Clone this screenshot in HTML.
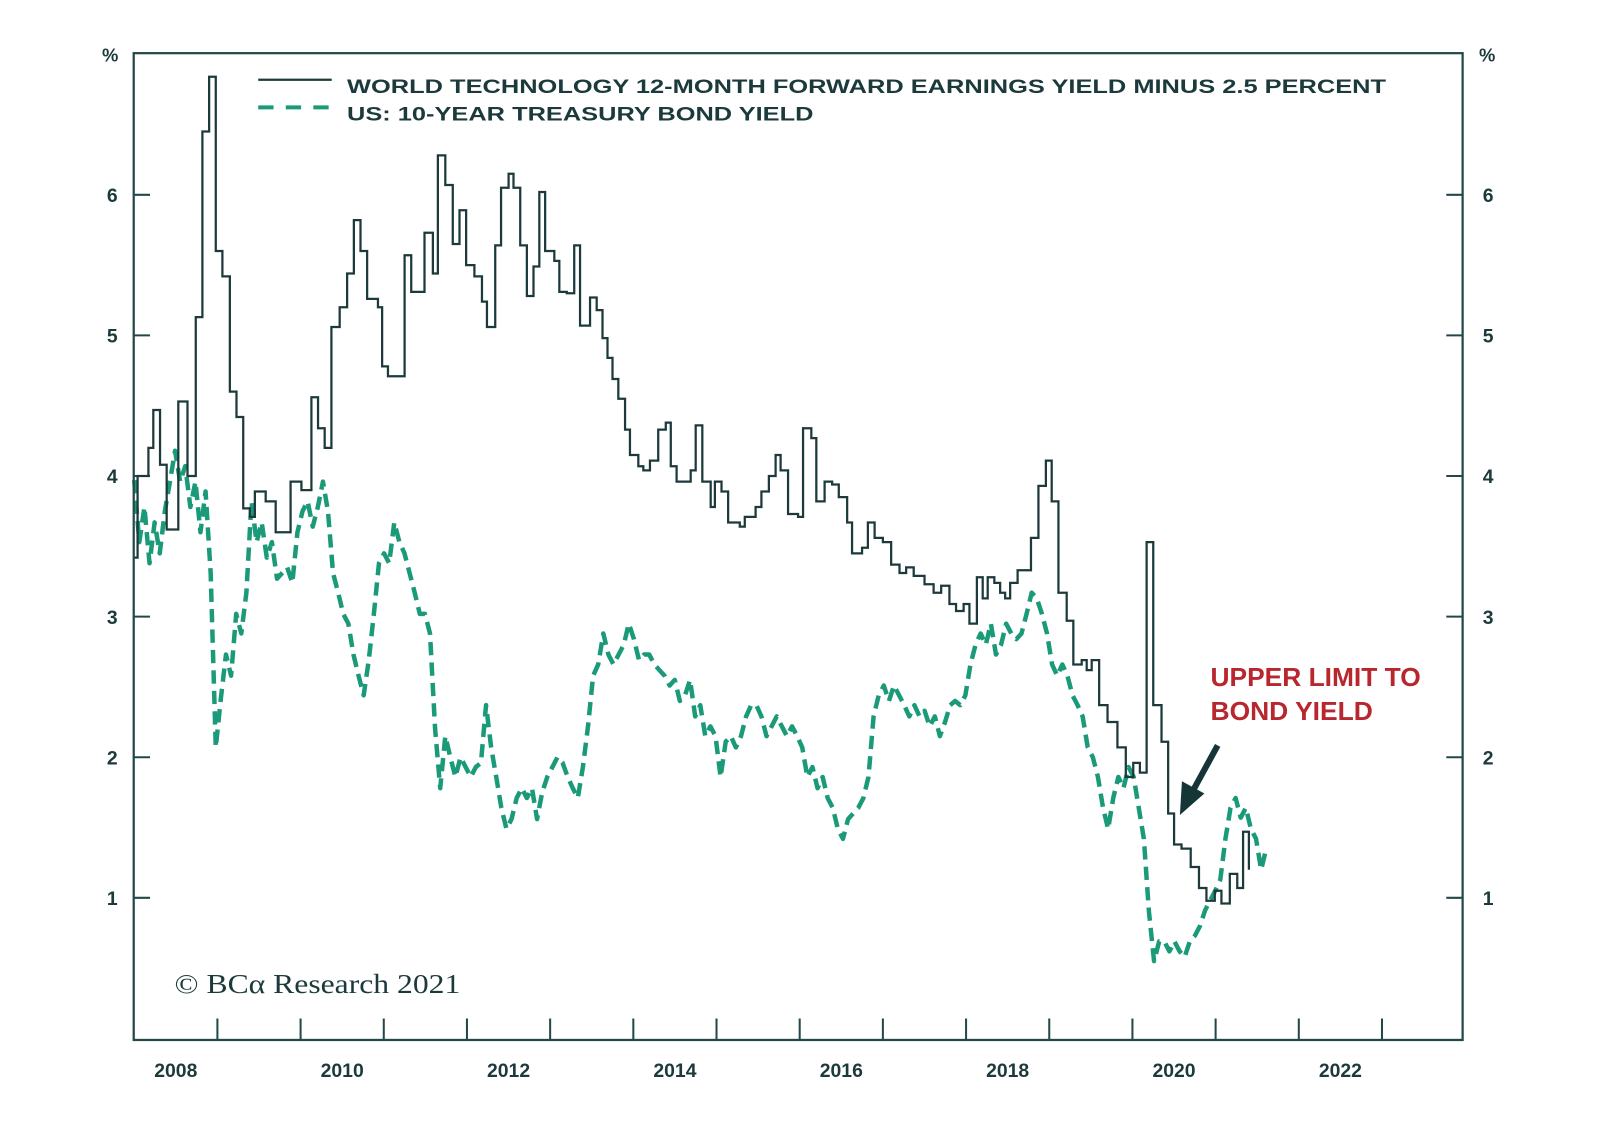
<!DOCTYPE html>
<html><head><meta charset="utf-8"><title>World Tech Earnings Yield vs US 10Y</title>
<style>
html,body{margin:0;padding:0;background:#fff;}
svg{display:block;}
text{font-family:"Liberation Sans",Arial,sans-serif;}
</style></head>
<body>
<svg id="chart" width="1600" height="1132" viewBox="0 0 1567.6 1107" preserveAspectRatio="none" xmlns="http://www.w3.org/2000/svg">
<rect x="0" y="0" width="1570" height="1110" fill="#fff"/>
<g id="grid-ticks"></g>
<g id="series"></g>
<rect x="131" y="52" width="1302" height="965" fill="none" stroke="#24484a" stroke-width="2.2"/>
<g id="labels"></g>
<g>
  <line x1="253" y1="78" x2="325" y2="78" stroke="#1c3a3b" stroke-width="2.2"/>
  <line x1="253" y1="105" x2="325" y2="105" stroke="#1a9a78" stroke-width="4" stroke-dasharray="15,12"/>
  <text x="340" y="91" font-size="19" font-weight="bold" fill="#1c3a3b" textLength="1018" lengthAdjust="spacingAndGlyphs">WORLD TECHNOLOGY 12-MONTH FORWARD EARNINGS YIELD MINUS 2.5 PERCENT</text>
  <text x="340" y="118" font-size="19" font-weight="bold" fill="#1c3a3b" textLength="457" lengthAdjust="spacingAndGlyphs">US: 10-YEAR TREASURY BOND YIELD</text>
</g>
<text x="171" y="971" font-size="27" fill="#1c3a3b" style="font-family:'Liberation Serif',serif" textLength="280" lengthAdjust="spacingAndGlyphs">© BCα Research 2021</text>
<g>
  <text x="1186" y="671" font-size="25" fill="#b8262e" textLength="206" lengthAdjust="spacingAndGlyphs" style="font-weight:600">UPPER LIMIT TO</text>
  <text x="1186" y="704" font-size="25" fill="#b8262e" textLength="159" lengthAdjust="spacingAndGlyphs" style="font-weight:600">BOND YIELD</text>
  <line x1="1193" y1="729" x2="1170" y2="771" stroke="#163536" stroke-width="6"/>
  <polygon points="1156,797 1158,764 1180,776" fill="#163536"/>
</g>
</svg>
<script>
// ---- data ----
const yTicks = [1, 2, 3, 4, 5, 6];
const yearLabels = [2008, 2010, 2012, 2014, 2016, 2018, 2020, 2022];
const yearTicks = [2009,2010,2011,2012,2013,2014,2015,2016,2017,2018,2019,2020,2021,2022,2023];
// Solid series: years since 2008 at which the step value begins, and the values
const techOffsets = [0.0,0.04,0.17,0.23,0.31,0.39,0.53,0.64,0.74,0.82,0.90,0.98,1.06,1.15,1.23,1.31,1.39,1.45,1.58,1.70,1.88,2.01,2.13,2.21,2.29,2.37,2.47,2.56,2.64,2.72,2.80,2.93,2.98,3.05,3.17,3.25,3.33,3.42,3.49,3.59,3.65,3.74,3.83,3.91,3.99,4.09,4.18,4.24,4.34,4.41,4.50,4.56,4.64,4.72,4.80,4.87,4.94,5.05,5.11,5.20,5.29,5.36,5.48,5.56,5.63,5.69,5.75,5.82,5.90,5.96,6.06,6.12,6.20,6.30,6.39,6.45,6.52,6.61,6.69,6.75,6.83,6.93,6.98,7.06,7.14,7.28,7.34,7.47,7.54,7.63,7.71,7.77,7.86,7.98,8.04,8.14,8.20,8.30,8.39,8.47,8.57,8.63,8.75,8.82,8.90,9.00,9.10,9.20,9.28,9.37,9.50,9.61,9.70,9.80,9.88,9.97,10.04,10.13,10.20,10.26,10.34,10.41,10.47,10.53,10.62,10.78,10.87,10.96,11.03,11.11,11.21,11.29,11.39,11.45,11.51,11.60,11.70,11.82,11.92,12.01,12.09,12.17,12.25,12.35,12.43,12.50,12.59,12.70,12.80,12.89,12.99,13.07,13.17,13.26,13.33,13.40];
const techValues = [3.42,4.0,4.2,4.47,4.08,3.62,4.53,4.0,5.13,6.45,6.84,5.6,5.42,4.6,4.42,3.77,3.71,3.89,3.82,3.6,3.96,3.9,4.56,4.34,4.2,5.06,5.2,5.44,5.82,5.6,5.26,5.2,4.78,4.71,4.71,5.57,5.31,5.31,5.73,5.44,6.28,6.07,5.65,5.89,5.5,5.42,5.24,5.06,5.64,6.05,6.15,6.05,5.64,5.28,5.49,6.02,5.6,5.53,5.31,5.3,5.64,5.07,5.27,5.18,4.98,4.84,4.69,4.55,4.33,4.15,4.07,4.04,4.11,4.33,4.38,4.07,3.96,3.96,4.04,4.36,3.96,3.78,3.96,3.89,3.67,3.64,3.71,3.78,3.89,4.0,4.15,4.04,3.73,3.71,4.34,4.27,3.82,3.96,3.94,3.85,3.67,3.45,3.49,3.67,3.56,3.53,3.37,3.31,3.35,3.29,3.23,3.17,3.22,3.09,3.04,3.09,2.95,3.28,3.13,3.28,3.24,3.17,3.13,3.24,3.33,3.56,3.93,4.11,3.82,3.17,2.97,2.66,2.69,2.62,2.69,2.37,2.25,2.07,1.86,1.96,1.89,3.53,2.37,2.11,1.6,1.38,1.35,1.22,1.07,0.98,1.05,0.96,1.17,1.07,1.47,1.2,1.2];
// Dashed series: sampled roughly every 22 days starting Jan 2008
const bondStartYear = 2008.0;
const bondStepYears = 0.0613;
const bondValues = [3.97,3.53,3.78,3.38,3.67,3.45,3.75,3.96,4.18,3.96,4.07,3.78,3.96,3.6,3.89,3.31,2.07,2.42,2.73,2.58,3.02,2.88,3.17,3.82,3.53,3.67,3.42,3.53,3.27,3.31,3.35,3.24,3.6,3.75,3.82,3.64,3.78,3.96,3.75,3.31,3.17,3.02,2.95,2.73,2.58,2.44,2.69,3.02,3.38,3.45,3.38,3.67,3.53,3.45,3.31,3.17,3.02,3.02,2.88,2.2,1.78,2.15,2.0,1.86,2.0,1.93,1.86,1.93,1.96,2.37,2.07,1.86,1.64,1.49,1.56,1.71,1.78,1.71,1.78,1.56,1.75,1.86,1.93,2.0,1.96,1.86,1.78,1.71,1.93,2.22,2.58,2.66,2.88,2.73,2.66,2.73,2.8,2.95,2.84,2.69,2.73,2.73,2.66,2.62,2.58,2.51,2.55,2.4,2.44,2.55,2.29,2.37,2.15,2.22,2.15,1.86,2.11,2.15,2.07,2.15,2.29,2.37,2.37,2.29,2.15,2.22,2.29,2.22,2.15,2.22,2.15,2.07,1.86,1.93,1.78,1.86,1.71,1.64,1.49,1.42,1.56,1.6,1.64,1.71,1.86,2.29,2.44,2.51,2.4,2.51,2.44,2.37,2.29,2.37,2.29,2.33,2.22,2.29,2.15,2.25,2.37,2.4,2.37,2.44,2.66,2.8,2.88,2.8,2.95,2.73,2.8,2.95,2.88,2.84,2.88,3.02,3.17,3.13,3.02,2.88,2.66,2.58,2.66,2.58,2.44,2.37,2.29,2.07,2.0,1.86,1.64,1.49,1.71,1.86,1.78,1.93,1.86,1.64,1.42,0.9,0.55,0.69,0.69,0.62,0.69,0.62,0.58,0.69,0.73,0.8,0.91,0.98,1.05,1.13,1.42,1.64,1.71,1.57,1.64,1.49,1.42,1.2,1.35];

// ---- scales ----
const X0 = 131.5, PX_PER_YEAR = 81.5, Y0 = 1015.5, PX_PER_UNIT = 137.5;
function xScale(year){ return X0 + (year - 2008) * PX_PER_YEAR; }
function yScale(v){ return Y0 - v * PX_PER_UNIT; }
const NS = 'http://www.w3.org/2000/svg';
function mk(tag, attrs, parent){ const e = document.createElementNS(NS, tag); for (const k in attrs) e.setAttribute(k, attrs[k]); parent.appendChild(e); return e; }

const ticksG = document.getElementById('grid-ticks');
const labelsG = document.getElementById('labels');
const seriesG = document.getElementById('series');

yTicks.forEach(v => {
  const y = yScale(v);
  const l1 = mk('line', {x1:131, y1:y, x2:147, y2:y, stroke:'#24484a', 'stroke-width':2}, ticksG);
  
  
  const l2 = mk('line', {x1:1417, y1:y, x2:1433, y2:y, stroke:'#24484a', 'stroke-width':2}, ticksG);
  
  
  const t1 = mk('text', {x:110, y:y+7, 'font-size':19, 'font-weight':'bold', fill:'#1c3a3b', 'text-anchor':'middle'}, labelsG);
  t1.textContent = v;
  
  
  const t2 = mk('text', {x:1458, y:y+7, 'font-size':19, 'font-weight':'bold', fill:'#1c3a3b', 'text-anchor':'middle'}, labelsG);
  t2.textContent = v;
  
  
});
['left','right'].forEach((side, i) => {
  const t = mk('text', {x: i ? 1457 : 108, y: 60, 'font-size':18, 'font-weight':'bold', fill:'#1c3a3b', 'text-anchor':'middle'}, labelsG);
  t.textContent = '%';
  
  
});
yearTicks.forEach(yr => {
  const x = xScale(yr);
  const l = mk('line', {x1:x, y1:1017, x2:x, y2:996, stroke:'#24484a', 'stroke-width':2}, ticksG);
  
  
});
yearLabels.forEach(yr => {
  const t = mk('text', {x:xScale(yr + 0.5), y:1053, 'font-size':19, 'font-weight':'bold', fill:'#1c3a3b', 'text-anchor':'middle'}, labelsG);
  t.textContent = yr;
  
  
});

// dashed bond yield
let dBond = '';
bondValues.forEach((v, i) => {
  const x = xScale(bondStartYear + i * bondStepYears), y = yScale(v);
  dBond += (i ? 'L' : 'M') + x.toFixed(1) + ',' + y.toFixed(1);
});
const bond = mk('path', {d:dBond, fill:'none', stroke:'#1a9a78', 'stroke-width':4.4, 'stroke-dasharray':'13,7', 'stroke-linejoin':'round'}, seriesG);



// solid step earnings yield
let dTech = '';
techValues.forEach((v, i) => {
  const x = xScale(2008 + techOffsets[i]), y = yScale(v);
  if (i === 0) dTech += 'M' + x.toFixed(1) + ',' + y.toFixed(1);
  else dTech += 'H' + x.toFixed(1) + 'V' + y.toFixed(1);
});
const tech = mk('path', {d:dTech, fill:'none', stroke:'#1c3a3b', 'stroke-width':2.2}, seriesG);


</script>
</body></html>
